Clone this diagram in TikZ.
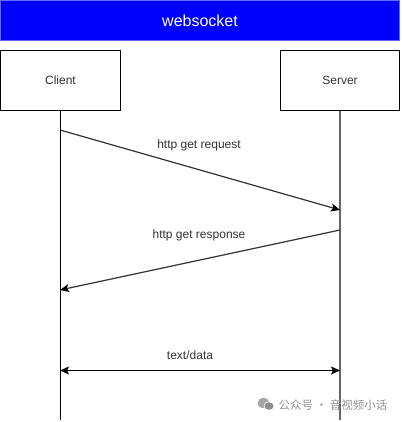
\documentclass[tikz,border=0pt]{standalone}
\usepackage{fontspec}
\setmainfont{Liberation Sans}
\newfontfamily\cjkfont{Noto Sans CJK SC}
\usetikzlibrary{arrows.meta}
\definecolor{ink}{HTML}{333333}
\tikzset{
  x=1pt,y=-1pt,
  header/.style={draw=blue!60!white,line width=1pt,fill=blue,text=white,minimum width=399.5pt,minimum height=39.5pt,inner sep=0pt,font=\fontsize{16}{19}\selectfont},
  actor/.style={draw=black,line width=1.1pt,fill=white,text=ink,minimum width=119.5pt,minimum height=59.5pt,inner sep=0pt,font=\fontsize{12}{14}\selectfont},
  lbl/.style={text=ink,inner sep=0pt,font=\fontsize{12}{14}\selectfont},
  lifeline/.style={line width=1.1pt},
  msg/.style={draw=ink,line width=1.2pt,-{Stealth[length=9pt,width=8pt,inset=2pt,color=black]}},
  both/.style={draw=black,line width=1.1pt,{Stealth[length=9pt,width=8pt,inset=2pt]}-{Stealth[length=9pt,width=8pt,inset=2pt]}}
}
\begin{document}
\begin{tikzpicture}
\useasboundingbox (0,0) rectangle (401,422);
\fill[white] (0,0) rectangle (401,422);
\node[header] (title) at (200,20.5) {websocket};
\coordinate (ce) at (60.5,420);
\coordinate (se) at (340,420);
\node[actor] (client) at (60.5,80.5) {Client};
\node[actor] (server) at (340,80.5) {Server};
\draw[lifeline,draw=black] (client.south) -- (ce);
\draw[lifeline,draw=black!60] (server.south) -- (se);
\coordinate (a1) at (60,130);
\coordinate (a2) at (340,210);
\coordinate (b1) at (340,230);
\coordinate (b2) at (60,290);
\coordinate (c1) at (60,370.5);
\coordinate (c2) at (340,370.5);
\draw[msg] (a1) -- (a2);
\draw[msg] (b1) -- (b2);
\draw[both] (c1) -- (c2);
\node[lbl] (l1) at (199,145.5) {http get request};
\node[lbl] (l2) at (199,235) {http get response};
\node[lbl] (l3) at (190,355) {text/data};
\fill[black!35] (263.5,403) ellipse (6pt and 5pt);
\fill[black!45,draw=white,line width=0.6pt] (269,406) ellipse (5pt and 4.2pt);
\node[inner sep=0pt,text=black!42,font=\cjkfont\fontsize{11.5}{13}\selectfont] (wm) at (333,405.5) {公众号 · 音视频小话};
\end{tikzpicture}
\end{document}
